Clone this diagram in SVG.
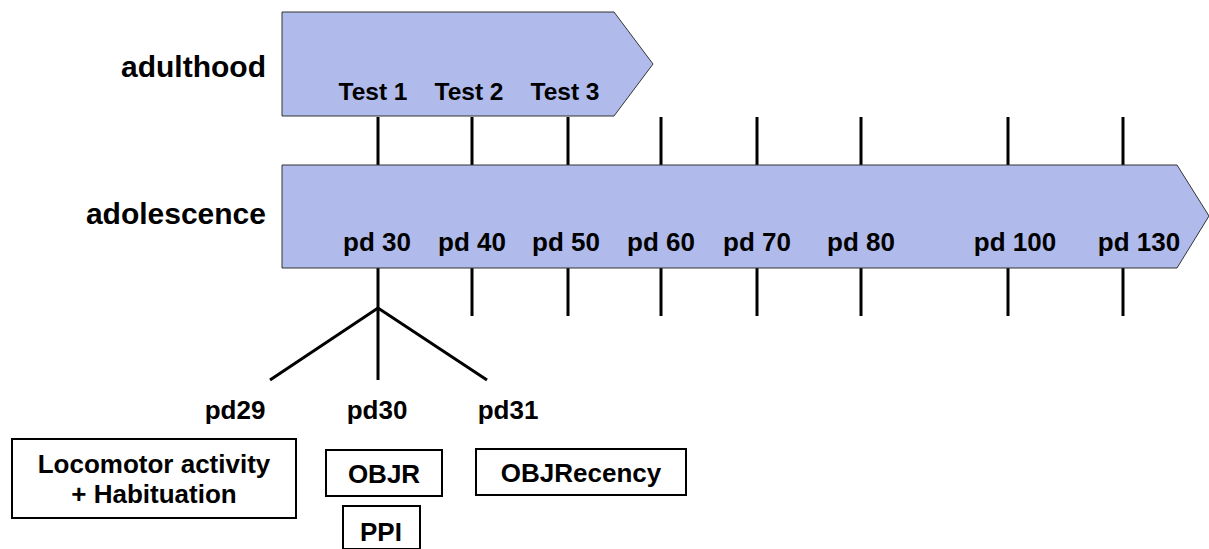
<svg xmlns="http://www.w3.org/2000/svg" width="1209" height="549" viewBox="0 0 1209 549">
<style>
.arrow{fill:#b0bbec;stroke:#333;stroke-width:1}
.t{font-family:"Liberation Sans",Arial,sans-serif;font-weight:bold;font-size:26px;fill:#000;text-anchor:middle}
.ts{font-size:24.5px}
.lbl{font-family:"Liberation Sans",Arial,sans-serif;font-weight:bold;font-size:30px;fill:#000;text-anchor:end}
.box{fill:#fff;stroke:#000;stroke-width:2}
.ln{stroke:#000;stroke-width:3;fill:none}
</style>
<rect width="1209" height="549" fill="#fff"/>
<g id="connectors">
<path class="ln" d="M378 117V165M472 117V165M568 117V165M661 117V165M757 117V165M861 117V165M1008 117V165M1123 117V165"/>
<path class="ln" d="M378 268V380M472 268V316M568 268V316M661 268V316M757 268V316M861 268V316M1008 268V316M1123 268V316"/>
<path class="ln" d="M270 380L378 308L487 380"/>
</g>
<g id="adulthood">
<polygon class="arrow" points="282,12 614,12 653,64 614,116 282,116"/>
<text class="lbl" x="266" y="77">adulthood</text>
<text class="t ts" x="373" y="100">Test 1</text>
<text class="t ts" x="469" y="100">Test 2</text>
<text class="t ts" x="565" y="100">Test 3</text>
</g>
<g id="adolescence">
<polygon class="arrow" points="282,165 1177,165 1209,216 1177,268 282,268"/>
<text class="lbl" x="266" y="224">adolescence</text>
<text class="t" x="377" y="251">pd 30</text>
<text class="t" x="472" y="251">pd 40</text>
<text class="t" x="566" y="251">pd 50</text>
<text class="t" x="661" y="251">pd 60</text>
<text class="t" x="757" y="251">pd 70</text>
<text class="t" x="861" y="251">pd 80</text>
<text class="t" x="1015" y="251">pd 100</text>
<text class="t" x="1139" y="251">pd 130</text>
</g>
<g id="days">
<text class="t" x="235" y="419">pd29</text>
<text class="t" x="377" y="419">pd30</text>
<text class="t" x="508" y="419">pd31</text>
</g>
<g id="locomotor">
<rect class="box" x="12" y="439" width="284" height="79"/>
<text class="t" x="154" y="473">Locomotor activity</text>
<text class="t" x="154" y="503">+ Habituation</text>
</g>
<g id="objr">
<rect class="box" x="326" y="450" width="116" height="46"/>
<text class="t" x="384" y="483">OBJR</text>
</g>
<g id="ppi">
<rect class="box" x="343" y="506" width="77" height="43"/>
<text class="t" x="381" y="541">PPI</text>
</g>
<g id="objrecency">
<rect class="box" x="476" y="449" width="210" height="46"/>
<text class="t" x="581" y="482">OBJRecency</text>
</g>
</svg>
